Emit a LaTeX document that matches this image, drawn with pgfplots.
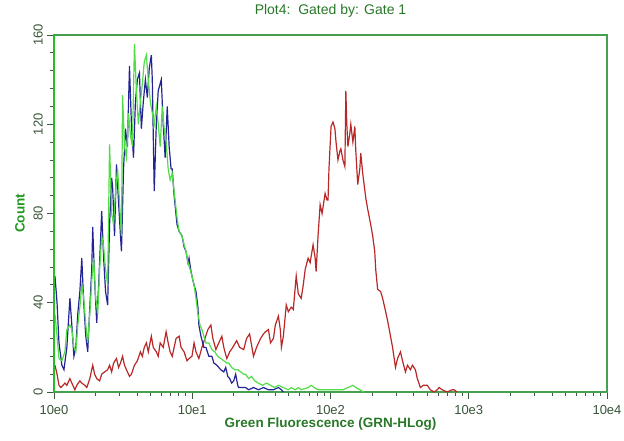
\documentclass[border=0pt]{standalone}
\usepackage{fontspec}
\setmainfont{Liberation Sans}
\usepackage{pgfplots}
\pgfplotsset{compat=1.18}
\definecolor{axgreen}{RGB}{70,160,80}
\definecolor{leftgreen}{RGB}{40,190,40}
\definecolor{txtgreen}{RGB}{40,120,40}
\definecolor{lblgreen}{RGB}{55,85,55}
\definecolor{tickc}{RGB}{60,90,60}
\definecolor{cblue}{RGB}{35,35,150}
\definecolor{cgreen}{RGB}{80,220,70}
\definecolor{cred}{RGB}{185,40,40}
\begin{document}
\begin{tikzpicture}
\begin{axis}[
  scale only axis, width=553pt, height=357pt,
  xmin=0, xmax=4, ymin=0, ymax=160,
  xtick={0,1,2,3,4}, xticklabels={10e0,10e1,10e2,10e3,10e4},
  minor xtick={0.301,0.477,0.602,0.699,0.778,0.845,0.903,0.954,
    1.301,1.477,1.602,1.699,1.778,1.845,1.903,1.954,
    2.301,2.477,2.602,2.699,2.778,2.845,2.903,2.954,
    3.301,3.477,3.602,3.699,3.778,3.845,3.903,3.954},
  ytick={0,40,80,120,160}, minor y tick num=4,
  tick align=outside, major tick length=7pt, minor tick length=4pt,
  xtick pos=bottom, ytick pos=left,
  every tick/.style={tickc, line width=0.9pt},
  axis line style={axgreen, line width=1.4pt},
  tick label style={font=\fontsize{13}{13}\selectfont, color=lblgreen},
  /pgf/number format/assume math mode=true,
  yticklabel style={rotate=90, anchor=south, inner sep=0pt, yshift=4pt},
  xticklabel style={anchor=north, inner sep=0pt, yshift=-6pt},
  title={Plot4:\ \ Gated by: Gate 1},
  title style={at={(axis description cs:0.5,1.041)}, anchor=base, font=\fontsize{14}{14}\selectfont, color=txtgreen},
  xlabel={Green Fluorescence (GRN-HLog)},
  xlabel style={at={(axis description cs:0.5,-0.1008)}, anchor=base, font=\bfseries\fontsize{13.5}{13.5}\selectfont, color=txtgreen},
  ylabel={Count},
  ylabel style={at={(axis description cs:-0.0524,0.5)}, anchor=south, rotate=0, inner sep=0pt, font=\bfseries\fontsize{13.5}{13.5}\selectfont, color=leftgreen!80!black},
  clip=true,
]
\addplot[cred, line width=1.2pt] table {
0.007 12
0.022 8
0.036 3
0.050 2
0.065 3
0.079 4
0.093 3
0.115 6
0.129 4
0.151 1
0.165 3
0.187 5
0.201 4
0.223 3
0.237 2
0.259 6
0.280 12
0.294 8
0.309 6
0.330 5
0.345 8
0.366 9
0.388 10
0.402 12
0.417 9
0.431 13
0.452 15
0.467 11
0.481 13
0.496 16
0.510 12
0.524 10
0.546 7
0.560 8
0.582 12
0.603 14
0.625 18
0.639 16
0.653 20
0.668 22
0.682 18
0.704 25
0.718 20
0.740 18
0.754 16
0.768 22
0.790 20
0.811 27
0.826 22
0.840 18
0.855 16
0.869 20
0.883 24
0.905 25
0.919 20
0.941 18
0.962 14
0.977 15
0.998 16
1.013 22
1.027 18
1.048 15
1.070 20
1.092 24
1.113 28
1.135 30
1.149 24
1.171 19
1.192 22
1.214 25
1.228 20
1.250 15
1.271 18
1.293 20
1.321 23
1.343 20
1.372 19
1.393 24
1.415 26
1.443 16
1.465 20
1.494 24
1.515 26
1.530 27
1.551 28
1.566 22
1.587 24
1.601 30
1.623 34
1.637 28
1.645 20
1.659 25
1.680 39
1.695 36
1.716 38
1.731 37
1.752 52
1.767 44
1.788 42
1.803 48
1.817 55
1.838 60
1.853 58
1.874 66
1.889 60
1.896 54
1.910 70
1.925 84
1.939 80
1.961 89
1.975 86
1.982 86
1.989 100
2.004 119
2.018 121
2.032 118
2.040 112
2.054 104
2.068 108
2.075 109
2.090 104
2.104 101
2.111 135
2.118 120
2.126 110
2.140 116
2.147 120
2.162 112
2.176 119
2.183 108
2.197 93
2.212 100
2.219 107
2.233 98
2.255 87
2.269 82
2.291 75
2.305 70
2.320 63
2.327 55
2.341 46
2.363 45
2.377 42
2.399 36
2.413 32
2.434 25
2.449 20
2.470 11
2.485 15
2.506 18
2.521 14
2.542 9
2.557 12
2.578 10
2.593 12
2.614 10
2.628 6
2.650 2
2.671 3
2.700 3
2.722 1
2.750 0
2.772 1
2.786 2
2.808 1
2.844 0
2.880 1
2.894 1
2.916 0
};
\addplot[cblue, line width=1.2pt] table {
0.007 52
0.022 40
0.036 22
0.057 12
0.072 10
0.093 20
0.115 42
0.129 30
0.144 16
0.158 20
0.172 35
0.187 45
0.201 60
0.215 40
0.230 25
0.244 18
0.259 38
0.273 55
0.280 74
0.294 50
0.309 31
0.323 48
0.338 70
0.345 81
0.359 60
0.373 45
0.388 39
0.402 75
0.417 96
0.424 92
0.438 70
0.452 102
0.467 85
0.481 70
0.488 63
0.503 100
0.517 118
0.531 110
0.546 146
0.560 120
0.575 105
0.589 130
0.603 140
0.618 143
0.632 118
0.646 130
0.661 140
0.675 132
0.689 145
0.704 151
0.711 140
0.725 90
0.740 120
0.754 135
0.776 140
0.790 120
0.804 105
0.819 128
0.833 110
0.847 100
0.855 100
0.869 88
0.890 75
0.905 72
0.926 70
0.941 65
0.955 63
0.969 58
0.977 60
0.991 54
1.005 50
1.013 48
1.027 45
1.041 38
1.048 30
1.063 25
1.084 20
1.099 20
1.120 16
1.142 16
1.156 13
1.178 12
1.192 11
1.206 10
1.228 9
1.242 11
1.257 7
1.271 6
1.285 4
1.300 5
1.314 8
1.329 3
1.336 2
1.357 2
1.386 2
1.408 1
1.443 2
1.479 1
1.515 2
1.551 1
1.587 1
1.623 2
1.645 1
1.659 0
};
\addplot[cgreen, line width=1.2pt] table {
0.007 35
0.022 25
0.036 15
0.057 14
0.079 18
0.093 28
0.115 30
0.129 28
0.144 20
0.158 18
0.172 30
0.187 38
0.201 48
0.215 42
0.230 30
0.244 22
0.259 35
0.273 50
0.287 60
0.302 42
0.316 35
0.330 55
0.345 70
0.359 65
0.373 55
0.388 48
0.402 111
0.417 80
0.431 75
0.445 90
0.460 100
0.474 85
0.488 70
0.496 133
0.510 110
0.524 105
0.539 125
0.553 115
0.567 110
0.582 156
0.596 135
0.610 120
0.625 130
0.639 138
0.653 148
0.668 151
0.682 140
0.697 130
0.711 125
0.725 120
0.740 128
0.754 120
0.768 110
0.783 128
0.797 118
0.811 112
0.826 100
0.840 95
0.855 98
0.869 90
0.890 78
0.905 72
0.926 70
0.941 66
0.955 63
0.969 58
0.984 55
0.998 52
1.013 48
1.027 42
1.041 35
1.056 30
1.070 28
1.084 25
1.099 22
1.120 22
1.142 19
1.163 18
1.185 16
1.206 15
1.228 14
1.250 13
1.264 13
1.285 11
1.307 10
1.329 10
1.350 9
1.372 8
1.386 8
1.408 6
1.429 7
1.451 5
1.479 4
1.508 3
1.537 4
1.566 3
1.594 2
1.623 3
1.659 2
1.695 1
1.716 2
1.745 1
1.767 2
1.788 1
1.838 2
1.860 3
1.882 2
1.910 1
1.982 1
2.054 1
2.090 1
2.126 2
2.162 3
2.183 2
2.212 1
2.241 0
};
\draw[leftgreen, line width=2.4pt] (rel axis cs:0,0) -- (rel axis cs:0,1);
\end{axis}
\pgfresetboundingbox
\path (-54pt,-48pt) rectangle (570pt,392pt);
\end{tikzpicture}
\end{document}
